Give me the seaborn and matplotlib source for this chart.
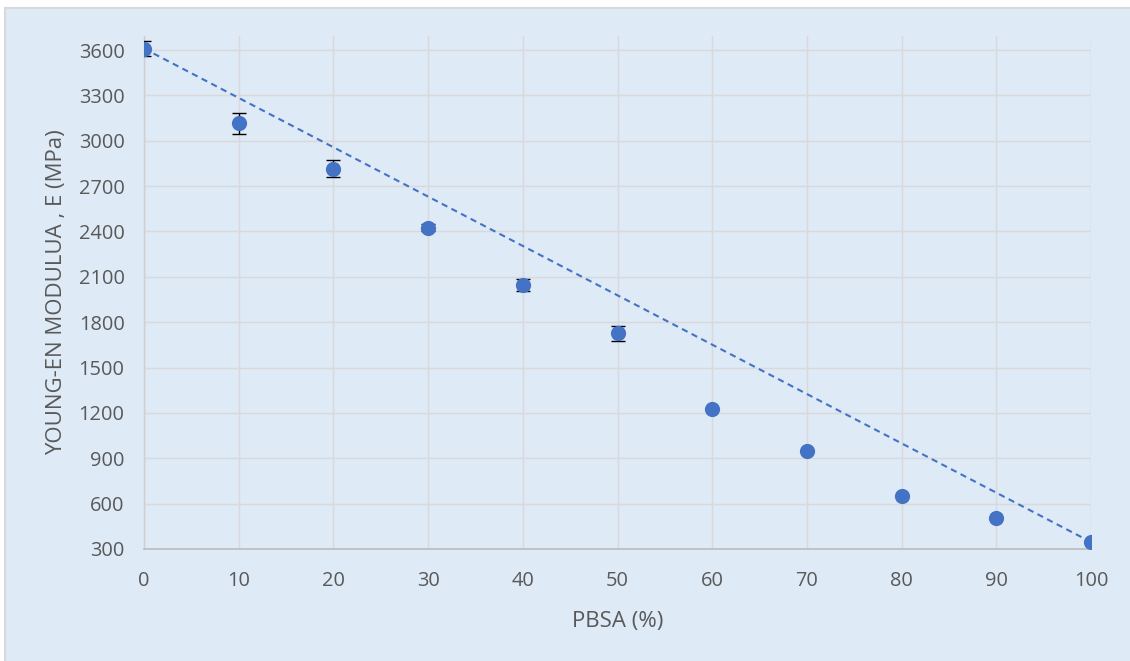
import matplotlib
matplotlib.use("Agg")
import matplotlib.pyplot as plt
import seaborn as sns
from matplotlib.patches import Rectangle

# ---- data ----
pbsa = [0, 10, 20, 30, 40, 50, 60, 70, 80, 90, 100]
modulus = [3610, 3115, 2815, 2425, 2048, 1727, 1226, 946, 652, 507, 346]
modulus_err = [50, 70, 56, 25, 40, 50, 0, 0, 0, 0, 0]
mix_x = [0, 100]
mix_y = [3610, 346]
x_ticks = [0, 10, 20, 30, 40, 50, 60, 70, 80, 90, 100]
y_ticks = [300, 600, 900, 1200, 1500, 1800, 2100, 2400, 2700, 3000, 3300, 3600]

BLUE = "#4472C4"
TEXT = "#595959"
GRID = "#D9D9D9"
BG = "#DEEAF6"

sns.set_theme(style="whitegrid")
plt.rcParams['font.family'] = ['Open Sans', 'DejaVu Sans']

fig = plt.figure(figsize=(11.3, 6.61), dpi=100, facecolor="white")
top = 1 - 7.5 / 661
fig.patches.append(Rectangle((4.5 / 1130, -0.2), 1.2, top + 0.2, transform=fig.transFigure,
                             facecolor=BG, edgecolor=GRID, lw=1.5, zorder=-10))

ax = fig.add_axes([144 / 1130, 1 - 549 / 661, (1091 - 144) / 1130, (549 - 36) / 661])
ax.set_facecolor("none")

sns.lineplot(x=mix_x, y=mix_y, ax=ax, color=BLUE, linewidth=1.5,
             linestyle=(0, (3, 2.2)), zorder=2)
ax.errorbar(pbsa, modulus, yerr=modulus_err, fmt="none", ecolor="black",
            elinewidth=1.0, capsize=4.7, capthick=1.0, zorder=3)
sns.scatterplot(x=pbsa, y=modulus, ax=ax, s=120, color=BLUE, edgecolor=BLUE,
                linewidth=0, zorder=4)

ax.set_xlim(0, 100)
ax.set_ylim(300, 3693)
ax.set_xticks(x_ticks)
ax.set_yticks(y_ticks)
ax.grid(True, color=GRID, linewidth=1.0)
ax.set_axisbelow(True)
for s in ["top", "right"]:
    ax.spines[s].set_visible(False)
ax.spines["bottom"].set_color("#BFBFBF")
ax.spines["bottom"].set_linewidth(1.3)
ax.spines["left"].set_color("#CFCFCF")
ax.spines["left"].set_linewidth(1.0)
ax.tick_params(axis="both", length=0, labelsize=14.4, labelcolor=TEXT)
ax.tick_params(axis="y", pad=14)
ax.tick_params(axis="x", pad=16)

ax.set_xlabel("PBSA (%)", fontsize=16, color=TEXT, labelpad=14)
ax.set_ylabel("YOUNG-EN MODULUA , E (MPa)", fontsize=16, color=TEXT, labelpad=8)

fig.savefig("out.png", dpi=100, facecolor="white")
